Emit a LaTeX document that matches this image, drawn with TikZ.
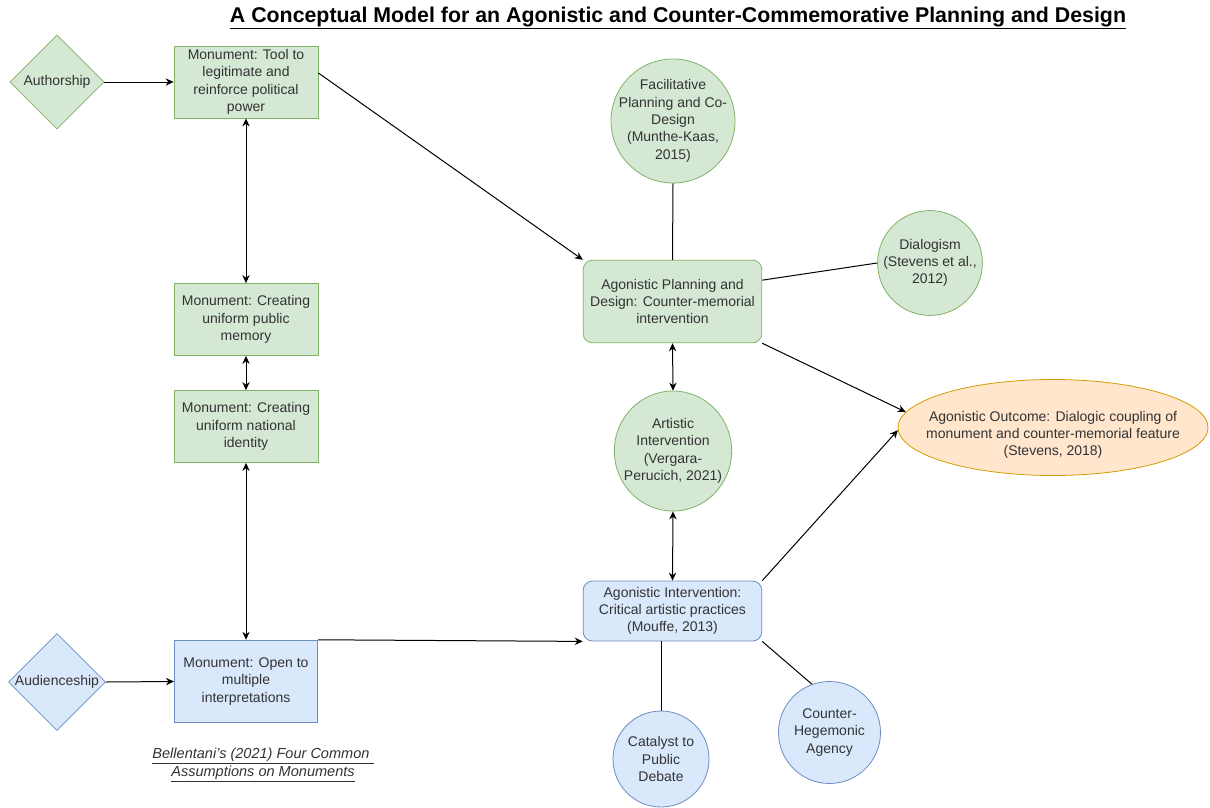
\documentclass[tikz,border=0pt]{standalone}
\usepackage{fontspec}
\setmainfont{Liberation Sans}
\usetikzlibrary{shapes.geometric,arrows.meta,calc}
\definecolor{gfill}{HTML}{D5E8D4}
\definecolor{gline}{HTML}{82B366}
\definecolor{bfill}{HTML}{DAE8FC}
\definecolor{bline}{HTML}{6C8EBF}
\definecolor{ofill}{HTML}{FFE6CC}
\definecolor{oline}{HTML}{D79B00}
\definecolor{txt}{HTML}{333333}
\begin{document}
\begin{tikzpicture}[x=0.75pt,y=-0.75pt,
  base/.style={draw, text=txt, font=\fontsize{10.5}{13}\selectfont, align=center, inner sep=0pt, line width=0.6pt},
  gbox/.style={base, rectangle, fill=gfill, draw=gline, minimum width=108pt, minimum height=54pt},
  bbox/.style={base, rectangle, fill=bfill, draw=bline, minimum width=107.5pt, minimum height=62pt},
  grbox/.style={base, rectangle, rounded corners=7pt, fill=gfill, draw=gline, minimum width=134pt, minimum height=62pt},
  brbox/.style={base, rectangle, rounded corners=7pt, fill=bfill, draw=bline, minimum width=134pt, minimum height=45pt},
  gdiam/.style={base, diamond, aspect=1, fill=gfill, draw=gline, minimum size=70.5pt},
  bdiam/.style={base, diamond, aspect=1, fill=bfill, draw=bline, minimum size=70.5pt},
  gcirc/.style={base, circle, fill=gfill, draw=gline},
  bcirc/.style={base, circle, fill=bfill, draw=bline},
  gell/.style={base, ellipse, fill=gfill, draw=gline},
  oell/.style={base, ellipse, fill=ofill, draw=oline},
  plaintext/.style={text=txt, font=\fontsize{10.5}{13}\selectfont, align=center, inner sep=0pt},
  arr/.style={-{Stealth[length=6pt,width=5.5pt]}, line width=0.75pt},
  darr/.style={{Stealth[length=6pt,width=5.5pt]}-{Stealth[length=6pt,width=5.5pt]}, line width=0.75pt},
  ln/.style={line width=0.75pt}
]
\useasboundingbox (0,0) rectangle (1210,807);
\fill[white] (0,0) rectangle (1210,807);

\node[font=\fontsize{16}{19}\selectfont\bfseries, text=black] (title) at (678,18) {\underline{A Conceptual Model for an Agonistic and Counter-Commemorative Planning and Design}};

\node[gdiam] (auth) at (57,82) {Authorship};
\node[bdiam] (aud) at (57,682) {Audienceship};

\node[gbox] (b1) at (246,82) {Monument: Tool to\\legitimate and\\reinforce political\\power};
\node[gbox] (b2) at (246,319.5) {Monument: Creating\\uniform public\\memory};
\node[gbox] (b3) at (246,426.5) {Monument: Creating\\uniform national\\identity};
\node[bbox] (b4) at (246,681.5) {Monument: Open to\\multiple\\interpretations};

\node[text=txt, font=\fontsize{10.9}{12}\selectfont\itshape, align=center] (cap) at (263,765) {\underline{Bellentani's (2021) Four Common }\\\underline{Assumptions on Monuments}};

\node[gcirc, minimum size=93pt, inner sep=-5pt] (fac) at (673,121) {Facilitative\\Planning and Co-\\Design\\(Munthe-Kaas,\\2015)};
\node[gcirc, minimum size=76.5pt] (dia) at (930,263) {Dialogism\\(Stevens et al.,\\2012)};
\node[grbox] (ap) at (672.5,301.5) {Agonistic Planning and\\Design: Counter-memorial\\intervention};
\node[gell, minimum width=88pt, minimum height=90pt, inner xsep=-6pt] (art) at (673,451) {Artistic\\Intervention\\(Vergara-\\Perucich, 2021)};
\node[oell, minimum width=232.5pt, minimum height=72pt] (out) at (1053,427.5) {};
\node[plaintext] (outtext) at (1053,435) {Agonistic Outcome: Dialogic coupling of\\monument and counter-memorial feature\\(Stevens, 2018)};
\node[brbox] (ai) at (672.5,611) {Agonistic Intervention:\\Critical artistic practices\\(Mouffe, 2013)};
\node[bcirc, minimum size=72pt] (cat) at (661,759) {Catalyst to\\Public\\Debate};
\node[bcirc, minimum size=76.5pt] (cou) at (829.5,732.5) {Counter-\\Hegemonic\\Agency};

\draw[arr] (auth.east) -- (b1.west);
\draw[arr] (aud.east) -- (b4.west);
\draw[darr] (b1.south) -- (b2.north);
\draw[darr] (b2.south) -- (b3.north);
\draw[darr] (b3.south) -- (b4.north);
\draw[arr] ([yshift=6.75pt]b1.east) -- (ap.north west);
\draw[arr] (b4.north east) -- (ai.south west);
\draw[ln] (fac.south) -- (ap.north);
\draw[ln] ([yshift=16pt]ap.east) -- (dia.west);
\draw[darr] (ap.south) -- (art.north);
\draw[darr] (art.south) -- (ai.north);
\draw[arr] (ap.south east) -- (out.174);
\draw[arr] (ai.north east) -- (out.181);
\draw[ln] (cat.north) -- (cat.north |- ai.south);
\draw[ln] (ai.south east) -- (cou.110);
\end{tikzpicture}
\end{document}
